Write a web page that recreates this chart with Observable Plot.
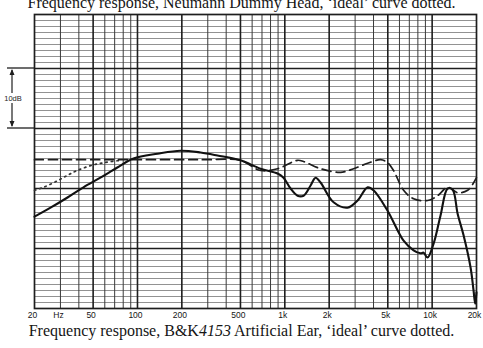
<!DOCTYPE html>
<html><head><meta charset="utf-8">
<script src="https://cdn.jsdelivr.net/npm/d3@7"></script>
<script src="https://cdn.jsdelivr.net/npm/@observablehq/plot@0.6"></script>
<style>
body{margin:0;background:#fff;width:483px;height:348px;overflow:hidden;position:relative;font-family:"Liberation Serif","Times New Roman",serif;color:#151515;}
#title{position:absolute;left:0;width:483px;top:-5px;text-align:center;font-size:16px;line-height:15px;white-space:nowrap;}
#chart{position:absolute;left:0;top:0;}
#caption{position:absolute;left:0;width:483px;top:323px;text-align:center;font-size:16px;line-height:16px;white-space:nowrap;}
</style></head>
<body>
<div id="title">Frequency response, Neumann Dummy Head, ‘ideal’ curve dotted.</div>
<div id="chart"></div>
<div id="caption">Frequency response, B&amp;K<i>4153</i> Artificial Ear, ‘ideal’ curve dotted.</div>
<script>
// measured response (solid)
const solidFreq = [20,25.7,33.5,43,56,73,94,137,196,268,349,500,684,893,980,1094,1220,1340,1496,1618,1748,2143,2667,3120,3650,4000,4980,6400,7480,8340,8750,9310,10230,11400,12740,13770,14890,16340,18240,19100,19600,20000];
const solidDb   = [15.3,16.8,18.5,20.2,21.8,23.5,25.0,25.8,26.3,26.0,25.5,24.7,23.3,22.5,21.8,20.0,18.8,18.8,20.5,21.8,21.0,17.7,16.8,18.0,20.2,19.7,16.3,11.3,9.7,9.2,9.3,8.5,10.8,15.5,20.0,19.8,15.8,12.2,6.8,3.0,0.8,2.7];
// 'ideal' curve (dashed)
const idealFreq = [20,50,100,200,300,500,684,893,1220,1340,1748,2390,2930,3650,4470,4980,5470,6400,7480,9310,10890,12740,14890,17420,20000];
const idealDb   = [24.8,24.8,24.8,24.8,24.8,24.7,23.0,23.3,24.7,24.5,23.3,22.7,23.3,24.2,24.8,24.3,23.0,19.7,18.3,18.0,18.8,20.2,19.3,19.7,21.8];
// low-frequency dotted branch
const dottedFreq = [20,23,28.7,33.5,39,48,59,77];
const dottedDb   = [19.7,20.2,21.3,22.2,23.0,23.8,24.3,24.7];
// axis
const tickFreq   = [20,30,50,100,200,500,1000,2000,5000,10000,20000];
const tickLabels = ["20","Hz","50","100","200","500","1k","2k","5k","10k","20k"];
const majorFreq  = [50,100,200,500,1000,2000,5000,10000];
const minorFreq  = [30,40,60,70,80,90,300,400,600,700,800,900,3000,4000,6000,7000,8000,9000];
const majorDb    = [10,20,30,40];
const minorDb    = d3.range(1,49).filter(d => d % 10 !== 0);
const bracketDb  = [30,40];

const solid  = solidFreq.map((f,i) => ({f, db: solidDb[i]}));
const ideal  = idealFreq.map((f,i) => ({f, db: idealDb[i]}));
const dotted = dottedFreq.map((f,i) => ({f, db: dottedDb[i]}));

const plot = Plot.plot({
  width: 483, height: 324,
  marginLeft: 34, marginRight: 7, marginTop: 14, marginBottom: 16,
  x: {type: "log", domain: [20, 20000], axis: null},
  y: {domain: [0, 49], axis: null},
  style: {background: "transparent"},
  marks: [
    Plot.ruleY(minorDb, {stroke: "#6e6e6e", strokeWidth: 0.75}),
    Plot.ruleX(minorFreq, {stroke: "#3a3a3a", strokeWidth: 1}),
    Plot.ruleY(majorDb, {stroke: "#1e1e1e", strokeWidth: 1.4}),
    Plot.ruleX(majorFreq, {stroke: "#1e1e1e", strokeWidth: 1.6}),
    Plot.frame({stroke: "#1e1e1e", strokeWidth: 1.7}),
    Plot.line(dotted, {x: "f", y: "db", stroke: "#333", strokeWidth: 1.7, strokeDasharray: "1.5,4", strokeLinecap: "round", curve: "catmull-rom"}),
    Plot.line(ideal, {x: "f", y: "db", stroke: "#1e1e1e", strokeWidth: 1.7, strokeDasharray: "9,5", curve: "catmull-rom"}),
    Plot.line(solid, {x: "f", y: "db", stroke: "#111", strokeWidth: 2.1, curve: "catmull-rom"}),
    Plot.text(tickFreq, {x: d => d, frameAnchor: "bottom", dy: 9, dx: -2, text: (d, i) => tickLabels[i], fontSize: 8.5, fontFamily: "Liberation Sans, Arial, sans-serif", fill: "#151515"})
  ]
});
document.getElementById("chart").appendChild(plot);

// 10 dB scale bracket in left margin
const ys = plot.scale("y");
const svg = d3.select(plot);
const yTop = ys.apply(bracketDb[1]), yBot = ys.apply(bracketDb[0]);
const g = svg.append("g").attr("stroke", "#1e1e1e").attr("fill", "#1e1e1e");
g.append("line").attr("x1", 7).attr("x2", 34).attr("y1", yTop).attr("y2", yTop).attr("stroke-width", 1.3);
g.append("line").attr("x1", 7).attr("x2", 34).attr("y1", yBot).attr("y2", yBot).attr("stroke-width", 1.3);
g.append("line").attr("x1", 12).attr("x2", 12).attr("y1", yTop + 2).attr("y2", yBot - 2).attr("stroke-width", 1.2);
g.append("path").attr("d", `M12,${yTop+1}L9.5,${yTop+7}L14.5,${yTop+7}Z`).attr("stroke", "none");
g.append("path").attr("d", `M12,${yBot-1}L9.5,${yBot-7}L14.5,${yBot-7}Z`).attr("stroke", "none");
const ym = (yTop + yBot) / 2;
g.append("rect").attr("x", 5).attr("y", ym - 5).attr("width", 16).attr("height", 10).attr("fill", "#fff").attr("stroke", "none");
g.append("text").attr("x", 13).attr("y", ym).attr("dy", "0.35em").attr("text-anchor", "middle")
  .attr("font-size", 7.5).attr("font-family", "Liberation Sans, Arial, sans-serif").attr("stroke", "none").text("10dB");
</script>
</body></html>
